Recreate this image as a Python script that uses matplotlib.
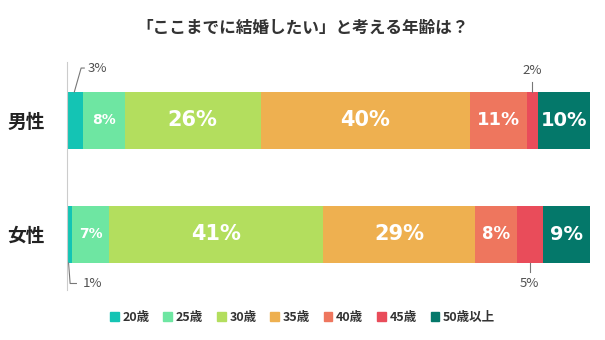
import matplotlib.pyplot as plt
from matplotlib.patches import Patch

plt.rcParams['font.family'] = ['Noto Sans CJK JP', 'DejaVu Sans']

# data
groups = ['男性', '女性']
ages = ['20歳', '25歳', '30歳', '35歳', '40歳', '45歳', '50歳以上']
male = [3, 8, 26, 40, 11, 2, 10]
female = [1, 7, 41, 29, 8, 5, 9]
colors = ['#14c4b4', '#6ee6a2', '#b3de5e', '#eeb050', '#ee765e', '#e94c5a', '#04786a']

# label font sizes inside segments (0 = outside label)
male_fs = [0, 10, 15, 15, 13, 0, 14]
female_fs = [0, 10, 15, 15, 12, 0, 14]

fig = plt.figure(figsize=(6.05, 3.4), dpi=100)
ax = fig.add_axes([67/605, 50/340, 523/605, 228/340])

for row, (vals, sizes) in enumerate([(male, male_fs), (female, female_fs)]):
    left = 0
    for i, v in enumerate(vals):
        ax.barh(row, v, left=left, height=0.5, color=colors[i], linewidth=0)
        if sizes[i]:
            ax.text(left + v/2, row, f'{v}%', ha='center', va='center',
                    color='white', fontsize=sizes[i], fontweight='bold',
                    family='DejaVu Sans')
        left += v

# outside labels with leader lines
gray = '#777777'
lab = dict(fontsize=9.5, color='#505050')
# male 20
ax.plot([1.4, 2.7, 3.3], [-0.25, -0.46, -0.46], color=gray, lw=0.8, clip_on=False)
ax.text(3.9, -0.46, f'{male[0]}%', va='center', ha='left', **lab)
# male 45
x45 = sum(male[:5]) + male[5]/2
ax.plot([x45, x45], [-0.25, -0.34], color=gray, lw=0.8, clip_on=False)
ax.text(x45, -0.44, f'{male[5]}%', va='center', ha='center', **lab)
# female 20
ax.plot([0.3, 0.6, 1.8], [1.25, 1.43, 1.43], color=gray, lw=0.8, clip_on=False)
ax.text(3.0, 1.43, f'{female[0]}%', va='center', ha='left', **lab)
# female 45
x45f = sum(female[:5]) + female[5]/2
ax.plot([x45f, x45f], [1.25, 1.33], color=gray, lw=0.8, clip_on=False)
ax.text(x45f, 1.43, f'{female[5]}%', va='center', ha='center', **lab)

ax.set_xlim(0, 100)
ax.set_ylim(1.487, -0.513)
ax.set_yticks([0, 1])
ax.set_yticklabels(groups, fontsize=13.5, fontweight='bold', color='#222222')
ax.tick_params(axis='y', length=0, pad=16)
ax.set_xticks([])
for s in ['top', 'right', 'bottom']:
    ax.spines[s].set_visible(False)
ax.spines['left'].set_color('#cccccc')
ax.spines['left'].set_linewidth(0.8)

fig.text(0.5, 1 - 28/340, '「ここまでに結婚したい」と考える年齢は？', ha='center', va='center',
         fontsize=12, fontweight='bold', color='#333333')

handles = [Patch(color=c, label=a) for c, a in zip(colors, ages)]
fig.legend(handles=handles, loc='center', bbox_to_anchor=(0.5, 1 - 317/340), ncol=7,
           frameon=False, handlelength=0.7, handleheight=0.7, handletextpad=0.3,
           columnspacing=1.1, prop={'size': 9, 'weight': 'bold'}, labelcolor='#333333')

fig.savefig('out.png', dpi=100)
